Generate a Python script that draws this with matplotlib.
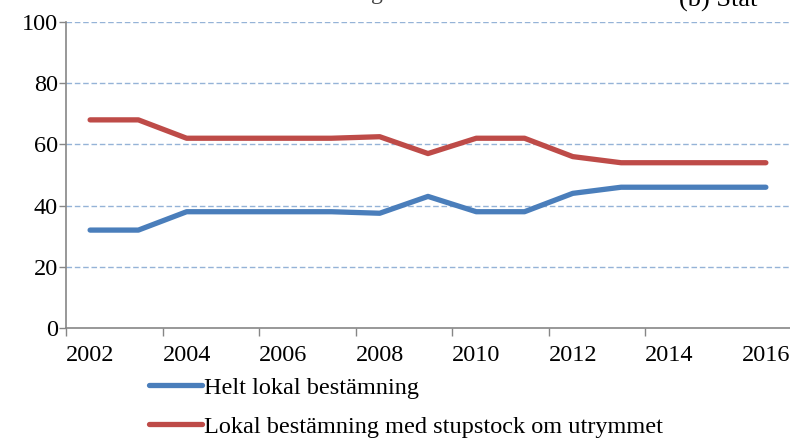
#recreate line chart: lokal bestämning over years

import matplotlib
matplotlib.use("Agg")
import matplotlib.pyplot as plt
from matplotlib.ticker import FixedLocator, NullFormatter

years = [2002, 2003, 2004, 2005, 2006, 2007, 2008, 2009, 2010,
         2011, 2012, 2013, 2014, 2015, 2016]
helt_lokal = [32, 32, 38, 38, 38, 38, 37.5, 43, 38, 38, 44, 46, 46, 46, 46]
lokal_stupstock = [68, 68, 62, 62, 62, 62, 62.5, 57, 62, 62, 56, 54, 54, 54, 54]
y_ticks = [0, 20, 40, 60, 80, 100]

labels = ["Helt lokal bestämning",
          "Lokal bestämning med stupstock om utrymmet"]
colors = ["#4A7EBB", "#BE4B48"]

plt.rcParams["font.family"] = ["Liberation Serif", "DejaVu Serif"]

fig = plt.figure(figsize=(7.9, 4.38), dpi=100)
ax = fig.add_axes([0.0835, 0.251, 0.9165, 0.699])

x = list(range(len(years)))
ax.plot(x, helt_lokal, color=colors[0], lw=3.8, solid_capstyle="round",
        solid_joinstyle="round", label=labels[0], zorder=3)
ax.plot(x, lokal_stupstock, color=colors[1], lw=3.8, solid_capstyle="round",
        solid_joinstyle="round", label=labels[1], zorder=3)

ax.set_xlim(-0.5, len(years) - 0.5)
ax.set_ylim(0, 100)

#y axis
ax.set_yticks(y_ticks)
ax.set_yticklabels([str(v) for v in y_ticks], fontsize=17.5)
for v in y_ticks[1:]:
    ax.axhline(v, color="#95B3D7", lw=1, ls=(0, (4, 2)), zorder=1)

#x axis: tick marks between categories, labels every second year
ax.xaxis.set_major_locator(FixedLocator([i - 0.5 for i in range(0, len(years) - 1, 2)]))
ax.xaxis.set_major_formatter(NullFormatter())
ax.xaxis.set_minor_locator(FixedLocator(x[::2]))
ax.set_xticklabels([str(y) for y in years[::2]], minor=True, fontsize=17.5)
ax.tick_params(axis="x", which="major", length=6, width=1, color="#868686", direction="out")
ax.tick_params(axis="x", which="minor", length=0, pad=12)
ax.tick_params(axis="y", length=5, width=1, color="#868686", direction="out", pad=1)

for s in ["top", "right"]:
    ax.spines[s].set_visible(False)
for s in ["left", "bottom"]:
    ax.spines[s].set_color("#868686")
    ax.spines[s].set_linewidth(1.2)

fig.legend(loc="upper left", bbox_to_anchor=(0.188, 0.14), frameon=False,
           fontsize=17.5, handlelength=2.2, handletextpad=0.1, labelspacing=0.7,
           borderpad=0, borderaxespad=0)

#titles cut off at the top of the image
fig.text(0.27, 1.003, "Lokal bestämning", fontsize=17, color="#404040", va="baseline")
fig.text(0.86, 0.985, "(b) Stat", fontsize=19, va="baseline")

plt.savefig("out.png", dpi=100)
